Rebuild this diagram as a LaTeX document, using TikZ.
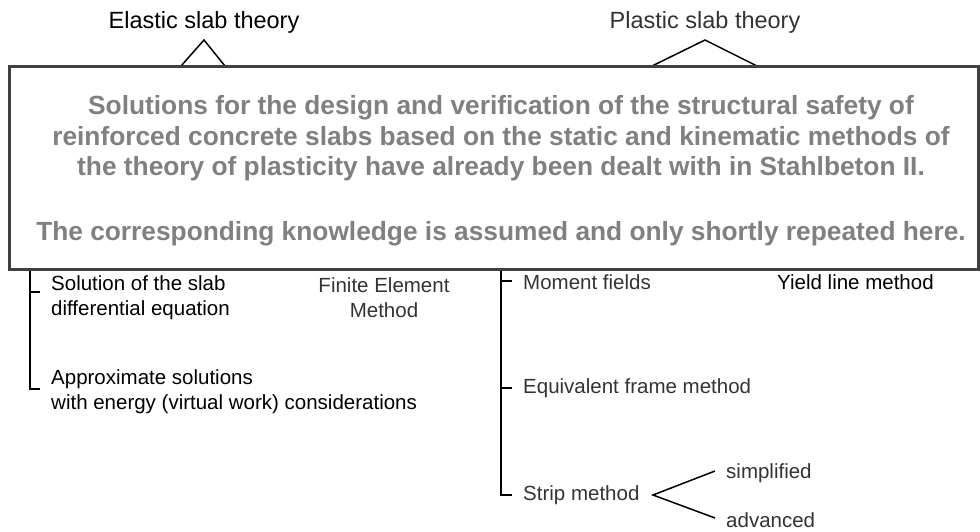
\documentclass[tikz,border=0pt]{standalone}
\usepackage{fontspec}
\setmainfont{Liberation Sans}
\definecolor{boxtext}{HTML}{808080}
\definecolor{boxline}{HTML}{404040}
\definecolor{dgray}{HTML}{333333}
\begin{document}
\begin{tikzpicture}[x=1pt,y=-1pt,
  title/.style={inner sep=0pt,font=\fontsize{23.5}{28}\selectfont},
  lbl/.style={inner sep=0pt,anchor=west,align=left,font=\fontsize{20.5}{25}\selectfont},
  tri/.style={line width=1.5pt,black},
  brk/.style={line width=2pt,black},
  tick/.style={line width=1.5pt,black}]
\useasboundingbox (0,0) rectangle (980,531);
% titles
\node[title] (elastic) at (204,22) {Elastic slab theory};
\node[title,text=dgray] (plastic) at (705,22) {Plastic slab theory};
% triangles
\coordinate (ea) at (204,40);
\coordinate (el) at (181,66);
\coordinate (er) at (225,66);
\coordinate (pa) at (705,40);
\coordinate (pl) at (652,66);
\coordinate (pr) at (757,66);
\draw[tri] (el) -- (ea) -- (er);
\draw[tri] (pl) -- (pa) -- (pr);
% left tree
\coordinate (ltop) at (30,270);
\coordinate (lbot) at (30,389);
\coordinate (lt1) at (40,292);
\coordinate (lt1b) at (30,292);
\coordinate (lt2) at (40,389);
\draw[brk] (ltop) -- (lbot) -- (lt2);
\draw[tick] (lt1b) -- (lt1);
\node[lbl] (sol) at (51,298) {Solution of the slab\\differential equation};
\node[lbl,align=center,anchor=center,text=dgray] (fem) at (384,298) {Finite Element\\Method};
\node[lbl] (appr) at (51,392) {Approximate solutions\\with energy (virtual work) considerations};
% right tree
\coordinate (rtop) at (501,270);
\coordinate (rbot) at (501,495);
\coordinate (rt1b) at (501,281);
\coordinate (rt1) at (512,281);
\coordinate (rt2b) at (501,388);
\coordinate (rt2) at (512,388);
\coordinate (rt3) at (512,495);
\draw[brk] (rtop) -- (rbot) -- (rt3);
\draw[tick] (rt1b) -- (rt1);
\draw[tick] (rt2b) -- (rt2);
\node[lbl,text=dgray] (mom) at (523,282) {Moment fields};
\node[lbl] (yield) at (777,282) {Yield line method};
\node[lbl,text=dgray] (equiv) at (523,388) {Equivalent frame method};
\node[lbl,text=dgray] (strip) at (523,495) {Strip method};
\node[lbl,text=dgray] (simp) at (726,473) {simplified};
\node[lbl,text=dgray] (adv) at (726,520) {advanced};
\coordinate (fa) at (653,495);
\coordinate (fs) at (715,471);
\coordinate (fv) at (715,518);
\draw[tri] (fs) -- (fa) -- (fv);
% overlay box
\draw[line width=3pt,draw=boxline,fill=white] (9.5,66.5) rectangle (978.5,269.5);
\node[inner sep=0pt,align=center,text=boxtext,font=\fontsize{26.3}{30.5}\bfseries\selectfont] (note) at (501,171)
  {Solutions for the design and verification of the structural safety of\\
   reinforced concrete slabs based on the static and kinematic methods of\\
   the theory of plasticity have already been dealt with in Stahlbeton II.\\[34.5pt]
   The corresponding knowledge is assumed and only shortly repeated here.};
\end{tikzpicture}
\end{document}
